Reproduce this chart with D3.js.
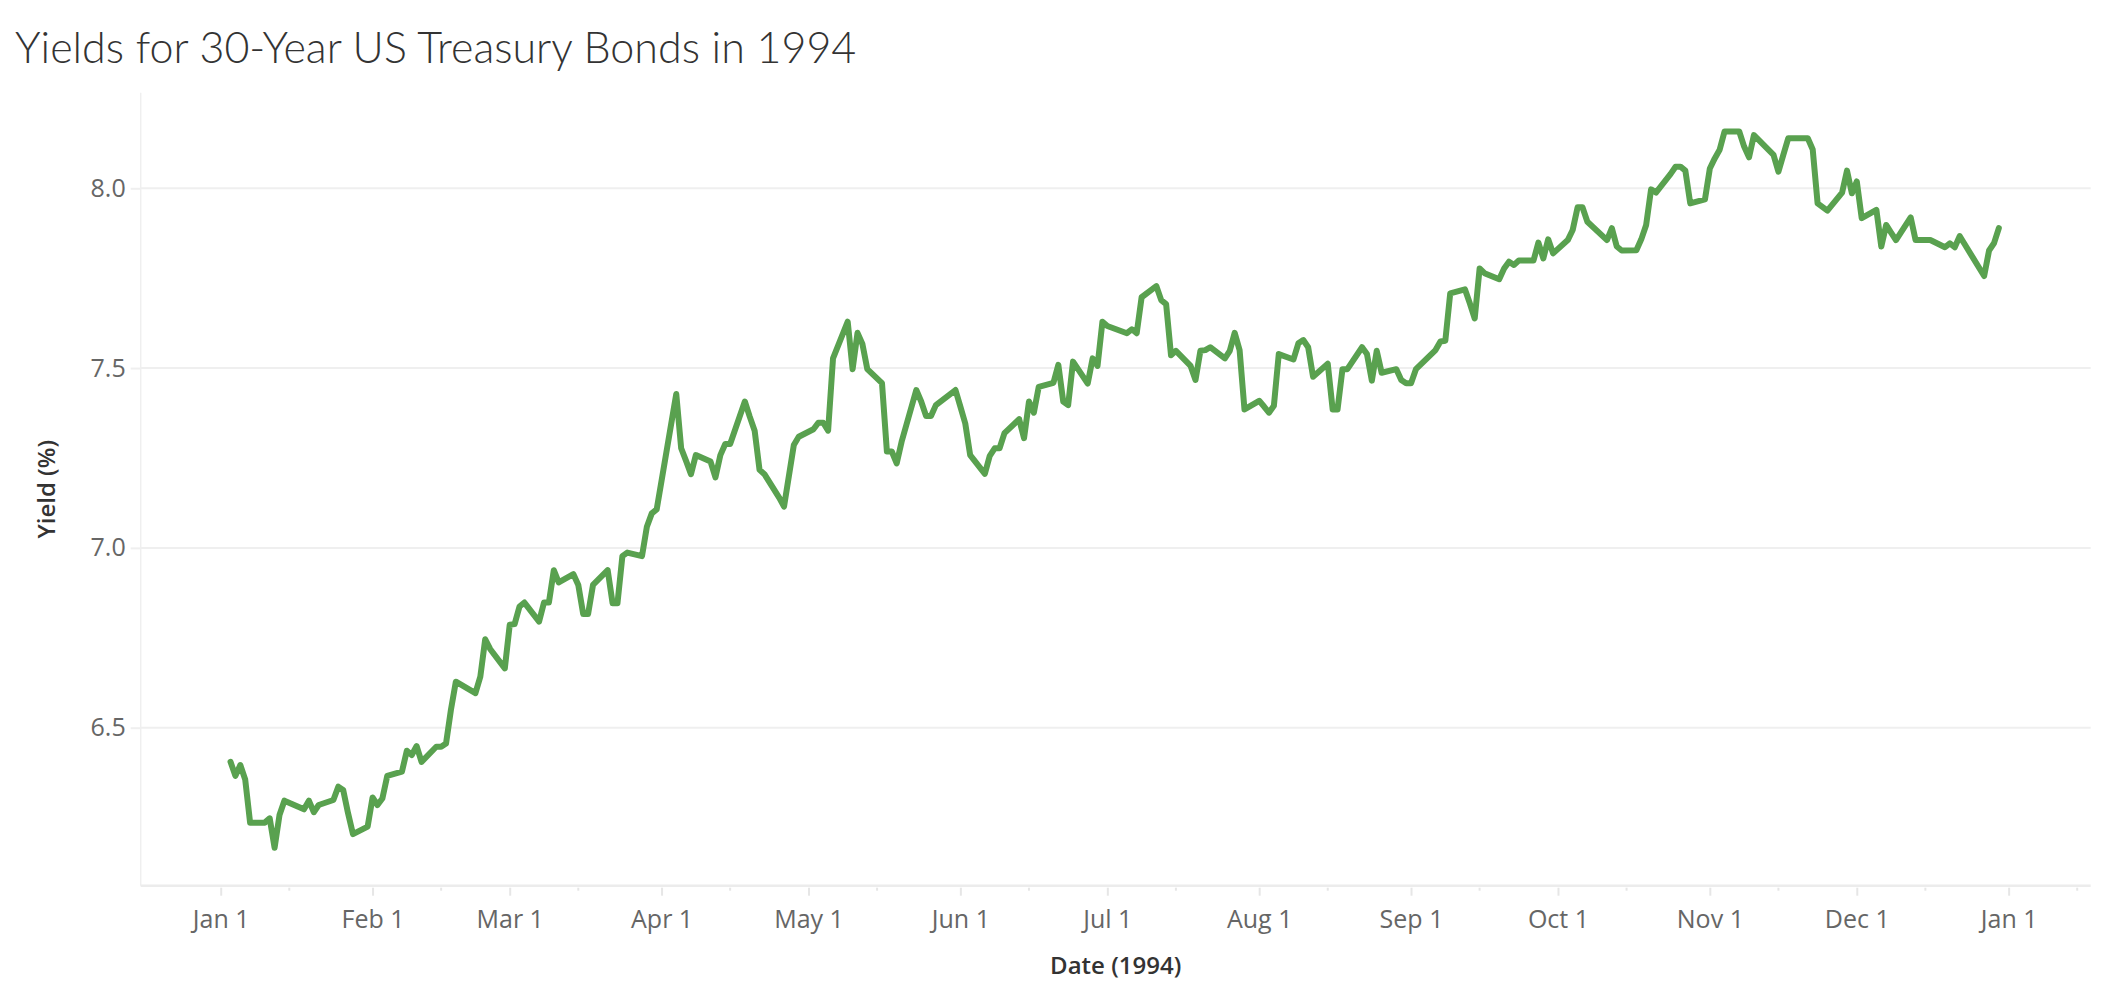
<!DOCTYPE html>
<html>
<head>
<meta charset="utf-8">
<script src="https://d3js.org/d3.v7.min.js"></script>
<style>
  body { margin: 0; background: #fff; }
  svg { display: block; }
</style>
</head>
<body>
<svg id="chart" width="2102" height="1000"></svg>
<script>
// trading days of 1994 (month-day) and 30-year yield
const dates = [
  '01-03','01-04','01-05','01-06','01-07','01-10','01-11','01-12','01-13','01-14',
  '01-18','01-19','01-20','01-21','01-24','01-25','01-26','01-27','01-28','01-31',
  '02-01','02-02','02-03','02-04','02-07','02-08','02-09','02-10','02-11','02-14',
  '02-15','02-16','02-17','02-18','02-22','02-23','02-24','02-25','02-28',
  '03-01','03-02','03-03','03-04','03-07','03-08','03-09','03-10','03-11','03-14',
  '03-15','03-16','03-17','03-18','03-21','03-22','03-23','03-24','03-25','03-28',
  '03-29','03-30','03-31',
  '04-04','04-05','04-06','04-07','04-08','04-11','04-12','04-13','04-14','04-15',
  '04-18','04-19','04-20','04-21','04-22','04-25','04-26','04-28','04-29',
  '05-02','05-03','05-04','05-05','05-06','05-09','05-10','05-11','05-12','05-13',
  '05-16','05-17','05-18','05-19','05-20','05-23','05-24','05-25','05-26','05-27',
  '05-31',
  '06-01','06-02','06-03','06-06','06-07','06-08','06-09','06-10','06-13','06-14',
  '06-15','06-16','06-17','06-20','06-21','06-22','06-23','06-24','06-27','06-28',
  '06-29','06-30',
  '07-01','07-05','07-06','07-07','07-08','07-11','07-12','07-13','07-14','07-15',
  '07-18','07-19','07-20','07-21','07-22','07-25','07-26','07-27','07-28','07-29',
  '08-01','08-02','08-03','08-04','08-05','08-08','08-09','08-10','08-11','08-12',
  '08-15','08-16','08-17','08-18','08-19','08-22','08-23','08-24','08-25','08-26',
  '08-29','08-30','08-31',
  '09-01','09-02','09-06','09-07','09-08','09-09','09-12','09-13','09-14','09-15',
  '09-16','09-19','09-20','09-21','09-22','09-23','09-26','09-27','09-28','09-29',
  '09-30',
  '10-03','10-04','10-05','10-06','10-07','10-11','10-12','10-13','10-14','10-17',
  '10-18','10-19','10-20','10-21','10-24','10-25','10-26','10-27','10-28','10-31',
  '11-01','11-02','11-03','11-04','11-07','11-08','11-09','11-10','11-14','11-15',
  '11-16','11-17','11-18','11-21','11-22','11-23','11-25','11-28','11-29','11-30',
  '12-01','12-02','12-05','12-06','12-07','12-08','12-09','12-12','12-13','12-14',
  '12-15','12-16','12-19','12-20','12-21','12-22','12-23','12-27','12-28','12-29',
  '12-30'
]
const yields = [
  6.405,6.366,6.396,6.356,6.236,6.236,6.248,6.166,6.257,6.297,
  6.273,6.297,6.265,6.285,6.299,6.336,6.327,6.262,6.204,6.225,
  6.306,6.285,6.303,6.366,6.378,6.436,6.424,6.449,6.405,6.447,
  6.447,6.456,6.550,6.628,6.596,6.642,6.746,6.719,6.665,
  6.786,6.788,6.837,6.848,6.795,6.848,6.848,6.938,6.904,6.927,
  6.897,6.816,6.816,6.897,6.938,6.846,6.846,6.977,6.987,6.977,
  7.059,7.096,7.107,
  7.428,7.277,7.242,7.205,7.258,7.240,7.196,7.258,7.289,7.289,
  7.407,7.365,7.326,7.217,7.205,7.140,7.115,7.286,7.309,
  7.330,7.348,7.348,7.326,7.527,7.629,7.497,7.598,7.567,7.497,
  7.458,7.268,7.268,7.235,7.295,7.439,7.407,7.367,7.367,7.397,
  7.439,
  7.393,7.346,7.258,7.206,7.256,7.277,7.277,7.319,7.358,7.305,
  7.407,7.376,7.448,7.459,7.509,7.407,7.397,7.518,7.457,7.527,
  7.506,7.629,
  7.617,7.597,7.608,7.597,7.697,7.728,7.689,7.678,7.536,7.548,
  7.506,7.467,7.548,7.550,7.558,7.527,7.548,7.598,7.550,7.385,
  7.409,7.393,7.376,7.395,7.539,7.524,7.569,7.578,7.558,7.476,
  7.512,7.385,7.385,7.497,7.497,7.558,7.539,7.465,7.548,7.487,
  7.497,7.467,7.458,
  7.458,7.497,7.550,7.574,7.576,7.708,7.719,7.680,7.638,7.777,
  7.764,7.747,7.777,7.796,7.787,7.799,7.799,7.849,7.805,7.858,
  7.819,
  7.856,7.884,7.947,7.947,7.907,7.856,7.889,7.838,7.827,7.828,
  7.858,7.898,7.997,7.988,8.040,8.060,8.060,8.049,7.958,7.969,
  8.055,8.083,8.107,8.158,8.158,8.116,8.086,8.148,8.093,8.046,
  8.093,8.139,8.139,8.139,8.108,7.958,7.938,7.988,8.049,7.986,
  8.019,7.917,7.940,7.838,7.898,7.877,7.856,7.919,7.856,7.856,
  7.856,7.856,7.836,7.847,7.836,7.867,7.845,7.756,7.827,7.847,
  7.889
]
const yTicks = [6.5, 7.0, 7.5, 8.0]
const monthTicks = ['1994-01-01','1994-02-01','1994-03-01','1994-04-01','1994-05-01','1994-06-01',
  '1994-07-01','1994-08-01','1994-09-01','1994-10-01','1994-11-01','1994-12-01','1995-01-01']
const midTicks = ['1994-01-15','1994-02-15','1994-03-15','1994-04-15','1994-05-15','1994-06-15',
  '1994-07-15','1994-08-15','1994-09-15','1994-10-15','1994-11-15','1994-12-15','1995-01-15']

const titleText = 'Yields for 30-Year US Treasury Bonds in 1994'
const xTitle = 'Date (1994)'
const yTitle = 'Yield (%)'

const plotLeft = 140.7, plotRight = 2090.7, plotTop = 92.7, plotBottom = 885.7
const green = '#59a14f'

const parse = d3.utcParse('%Y-%m-%d')
const data = dates.map((d, i) => ({ date: parse('1994-' + d), value: yields[i] }))

const x = d3.scaleUtc()
  .domain([Date.UTC(1993, 11, 15, 16), Date.UTC(1995, 0, 17, 18)])
  .range([plotLeft, plotRight])
const y = d3.scaleLinear().domain([6.0606, 8.2658]).range([plotBottom, plotTop])

const svg = d3.select('#chart')

svg.append('text')
  .attr('x', 15).attr('y', 63)
  .style('font-family', 'Lato, "Open Sans", sans-serif')
  .style('font-weight', 300)
  .style('font-size', '43px')
  .style('fill', '#333')
  .text(titleText)

// gridlines
svg.append('g').selectAll('line').data(yTicks).enter().append('line')
  .attr('x1', plotLeft).attr('x2', plotRight)
  .attr('y1', d => y(d)).attr('y2', d => y(d))
  .style('stroke', '#efefef').style('stroke-width', 2)

// y axis
const yAxis = svg.append('g')
  .attr('transform', `translate(${plotLeft},0)`)
  .call(d3.axisLeft(y).tickValues(yTicks).tickFormat(d3.format('.1f')).tickSize(10).tickPadding(5))
yAxis.select('.domain').attr('d', `M0,${plotTop}V${plotBottom}`).style('stroke', '#efefef').style('stroke-width', 1.5)
yAxis.selectAll('.tick line').style('stroke', '#efefef').style('stroke-width', 2)
yAxis.selectAll('.tick text')
  .style('font-family', '"Open Sans", sans-serif').style('font-size', '25px').style('fill', '#666')

// x axis
const xAxis = svg.append('g')
  .attr('transform', `translate(0,${plotBottom})`)
  .call(d3.axisBottom(x).tickValues(monthTicks.map(parse))
    .tickFormat(d3.utcFormat('%b %-d')).tickSize(10).tickPadding(15))
xAxis.select('.domain').attr('d', `M${plotLeft},0H${plotRight}`).style('stroke', '#ececec').style('stroke-width', 2.5)
xAxis.selectAll('.tick line').attr('y1', 2).style('stroke', '#e6e6e6').style('stroke-width', 2)
xAxis.selectAll('.tick text')
  .style('font-family', '"Open Sans", sans-serif').style('font-size', '25px').style('fill', '#666')

xAxis.append('g').selectAll('line').data(midTicks.map(parse).filter(d => x(d) <= plotRight)).enter().append('line')
  .attr('x1', d => x(d)).attr('x2', d => x(d))
  .attr('y1', 2).attr('y2', 5)
  .style('stroke', '#e6e6e6').style('stroke-width', 2)

// axis titles
svg.append('text')
  .attr('x', (plotLeft + plotRight) / 2).attr('y', 974)
  .attr('text-anchor', 'middle')
  .style('font-family', '"Open Sans", sans-serif').style('font-weight', 600)
  .style('font-size', '24px').style('fill', '#333')
  .text(xTitle)

svg.append('text')
  .attr('transform', `translate(55,${(plotTop + plotBottom) / 2}) rotate(-90)`)
  .attr('text-anchor', 'middle')
  .style('font-family', '"Open Sans", sans-serif').style('font-weight', 600)
  .style('font-size', '24px').style('fill', '#333')
  .text(yTitle)

// the line
const line = d3.line().x(d => x(d.date)).y(d => y(d.value))
svg.append('path')
  .datum(data)
  .attr('d', line)
  .style('fill', 'none')
  .style('stroke', green)
  .style('stroke-width', 6)
  .style('stroke-linejoin', 'round')
  .style('stroke-linecap', 'round')
</script>
</body>
</html>
